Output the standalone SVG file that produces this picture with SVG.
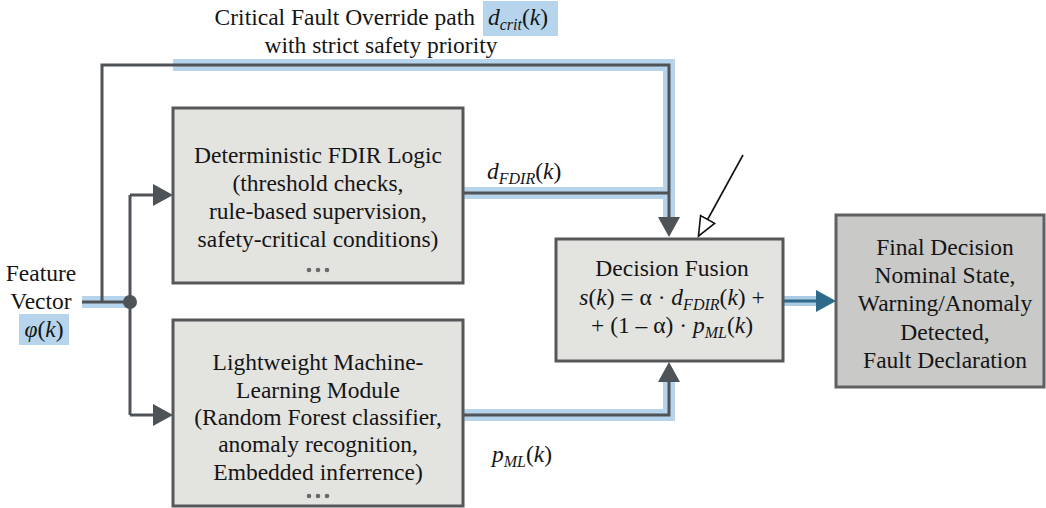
<svg xmlns="http://www.w3.org/2000/svg" width="1046" height="508" viewBox="0 0 1046 508">
  <defs>
    <style>
      text { font-family: "Liberation Serif", "Times New Roman", serif; font-size: 23.5px; fill: #151515; }
      .c { text-anchor: middle; }
      .i { font-style: italic; }
      .sub { font-style: italic; font-size: 16px; }
      .box { fill: #e3e3e0; stroke: #555759; stroke-width: 3; }
      .boxdark { fill: #c9c9c8; stroke: #5e6062; stroke-width: 3; }
      .band { fill: none; stroke: #b6d4eb; stroke-width: 12; }
      .wire { fill: none; stroke: #4e5358; stroke-width: 3; }
      .hl { fill: #b6d4eb; }
      .dots { fill: #6a6a6a; }
    </style>
    <marker id="arrow" markerUnits="userSpaceOnUse" markerWidth="20" markerHeight="22" refX="0" refY="11" orient="auto">
      <path d="M0,0 L20,11 L0,22 z" fill="#4e5358"/>
    </marker>
    <marker id="hollow" markerUnits="userSpaceOnUse" markerWidth="22" markerHeight="20" refX="1" refY="10" orient="auto">
      <path d="M1,2 L20,10 L1,18 z" fill="#ffffff" stroke="#111111" stroke-width="1.6"/>
    </marker>
  </defs>

  <rect width="1046" height="508" fill="#ffffff"/>

  <!-- caption of the override path -->
  <g id="override-label">
    <rect class="hl" x="483" y="1" width="75" height="35"/>
    <text x="475" y="25" text-anchor="end">Critical Fault Override path</text>
    <text x="488" y="25"><tspan class="i">d</tspan><tspan class="sub" dy="5">crit</tspan><tspan dy="-5">(</tspan><tspan class="i">k</tspan>)</text>
    <text class="c" x="381" y="53">with strict safety priority</text>
  </g>

  <!-- connectors -->
  <g id="connectors">
    <!-- highlight bands -->
    <polyline class="band" points="173,65 669,65 669,218"/>
    <polyline class="band" points="463,193 669,193"/>
    <polyline class="band" points="463,415 669,415 669,382"/>
    <line class="band" x1="82" y1="302" x2="130" y2="302"/>
    <line x1="783" y1="301" x2="818" y2="301" stroke="#a9cbe3" stroke-width="10"/>

    <!-- feature vector split -->
    <line class="wire" x1="82" y1="302" x2="130" y2="302"/>
    <polyline class="wire" points="130,195 130,415"/>
    <line class="wire" x1="130" y1="195" x2="153" y2="195" marker-end="url(#arrow)"/>
    <line class="wire" x1="130" y1="415" x2="153" y2="415" marker-end="url(#arrow)"/>
    <circle cx="130" cy="302" r="7" fill="#4e5358"/>

    <!-- critical fault override path -->
    <polyline class="wire" points="102,302 102,65 669,65 669,217" marker-end="url(#arrow)"/>
    <!-- deterministic output -->
    <line class="wire" x1="463" y1="193" x2="669" y2="193"/>
    <!-- ML output -->
    <polyline class="wire" points="463,415 669,415 669,382" marker-end="url(#arrow)"/>

    <!-- external input to fusion -->
    <line x1="743" y1="155" x2="707.6" y2="219.5" stroke="#111111" stroke-width="1.6" marker-end="url(#hollow)"/>

    <!-- fusion to final decision -->
    <line x1="783" y1="301" x2="818" y2="301" stroke="#2d6a89" stroke-width="3"/>
    <path d="M816,290 L836,301 L816,312 z" fill="#2d6a89"/>
  </g>

  <g id="feature-vector">
    <text class="c" x="41" y="281">Feature</text>
    <text class="c" x="41" y="309">Vector</text>
    <rect class="hl" x="19" y="314" width="50" height="31"/>
    <text class="c" x="44" y="337"><tspan class="i">φ</tspan>(<tspan class="i">k</tspan>)</text>
  </g>

  <g id="fdir-logic">
    <rect class="box" x="173" y="108" width="290" height="175"/>
    <text class="c" x="318" y="163">Deterministic FDIR Logic</text>
    <text class="c" x="318" y="191">(threshold checks,</text>
    <text class="c" x="318" y="219">rule-based supervision,</text>
    <text class="c" x="318" y="247">safety-critical conditions)</text>
    <circle class="dots" cx="309" cy="270" r="2.3"/>
    <circle class="dots" cx="318" cy="270" r="2.3"/>
    <circle class="dots" cx="327" cy="270" r="2.3"/>
  </g>

  <g id="ml-module">
    <rect class="box" x="173" y="320" width="290" height="186"/>
    <text class="c" x="318" y="370">Lightweight Machine-</text>
    <text class="c" x="318" y="398">Learning Module</text>
    <text class="c" x="318" y="425">(Random Forest classifier,</text>
    <text class="c" x="318" y="452">anomaly recognition,</text>
    <text class="c" x="318" y="480">Embedded inferrence)</text>
    <circle class="dots" cx="309" cy="496" r="2.3"/>
    <circle class="dots" cx="318" cy="496" r="2.3"/>
    <circle class="dots" cx="327" cy="496" r="2.3"/>
  </g>

  <g id="fdir-output-label">
    <text x="487" y="179"><tspan class="i">d</tspan><tspan class="sub" dy="5">FDIR</tspan><tspan dy="-5">(</tspan><tspan class="i">k</tspan>)</text>
  </g>

  <g id="ml-output-label">
    <text x="492" y="462"><tspan class="i">p</tspan><tspan class="sub" dy="5">ML</tspan><tspan dy="-5">(</tspan><tspan class="i">k</tspan>)</text>
  </g>

  <g id="decision-fusion">
    <rect class="box" x="556" y="239" width="227" height="122"/>
    <text class="c" x="672" y="276">Decision Fusion</text>
    <text class="c" x="672" y="305"><tspan class="i">s</tspan>(<tspan class="i">k</tspan>) = α · <tspan class="i">d</tspan><tspan class="sub" dy="5">FDIR</tspan><tspan dy="-5">(</tspan><tspan class="i">k</tspan>) +</text>
    <text class="c" x="672" y="333">+ (1 – α) · <tspan class="i">p</tspan><tspan class="sub" dy="5">ML</tspan><tspan dy="-5">(</tspan><tspan class="i">k</tspan>)</text>
  </g>

  <g id="final-decision">
    <rect class="boxdark" x="836" y="215" width="208" height="172"/>
    <text class="c" x="945" y="255">Final Decision</text>
    <text class="c" x="945" y="283">Nominal State,</text>
    <text class="c" x="945" y="311">Warning/Anomaly</text>
    <text class="c" x="945" y="340">Detected,</text>
    <text class="c" x="945" y="368">Fault Declaration</text>
  </g>
</svg>
